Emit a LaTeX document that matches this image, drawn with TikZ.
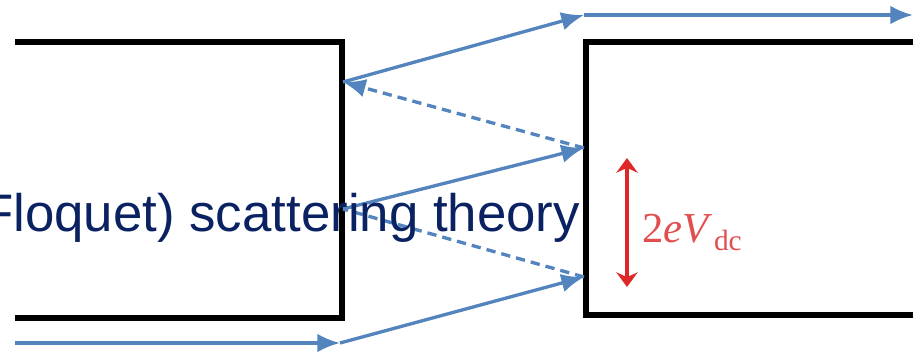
\RequirePackage{fix-cm}
\documentclass[tikz,border=0pt]{standalone}
\usepackage{fontspec}
\usepackage{xcolor}
\usepackage{tikz}
\usetikzlibrary{arrows.meta}
\newfontfamily\arialx{Liberation Sans}
\newfontfamily\timesx{Liberation Serif}
\definecolor{wireblue}{RGB}{84, 132, 190}
\definecolor{biasred}{RGB}{222, 40, 40}
\definecolor{lblred}{RGB}{226, 78, 78}
\definecolor{navy}{RGB}{10, 34, 98}
\tikzset{
    lead/.style  ={draw=black, line width=4pt, line join=miter},
    ar/.style    ={-{Latex[length=17pt, width=14pt]}, line width=2.5pt, draw=wireblue},
    ard/.style   ={ar, dash pattern=on 7pt off 4.5pt},
    bias/.style  ={{Stealth[length=11pt, width=16pt]}-{Stealth[length=11pt, width=16pt]},
                   line width=2.6pt, draw=biasred},
    title/.style ={font=\arialx\fontsize{39.6}{46}\selectfont, text=navy, inner sep=0pt},
    biaslbl/.style={font=\timesx\fontsize{32}{36}\selectfont, text=lblred, inner sep=0pt}
}
\newcommand{\sublow}[1]{\raisebox{-6pt}{\fontsize{22}{24}\selectfont #1}}

\begin{document}
\begin{tikzpicture}[x=0.75pt, y=-0.75pt]
  \useasboundingbox (0,0) rectangle (923,357);
  \clip (0,0) rectangle (923,357);

  % ---- the two leads
  \coordinate (lt)  at ( 15, 42);
  \coordinate (lc1) at (342, 42);
  \coordinate (lc2) at (342,318);
  \coordinate (lb)  at ( 15,318);
  \coordinate (rt)  at (913, 42);
  \coordinate (rc1) at (586, 42);
  \coordinate (rc2) at (586,315);
  \coordinate (rb)  at (913,315);
  \draw[lead] (lt) -- (lc1) -- (lc2) -- (lb);
  \draw[lead] (rt) -- (rc1) -- (rc2) -- (rb);

  % ---- bouncing path
  \coordinate (in)  at ( 15,343);
  \coordinate (p0)  at (340,343);
  \coordinate (p1)  at (584,277);
  \coordinate (p2)  at (343,209);
  \coordinate (p3)  at (584,148);
  \coordinate (p4)  at (343, 82);
  \coordinate (p5)  at (584, 15);
  \coordinate (out) at (913, 15);
  \draw[ar]  (in) -- (p0);
  \draw[ar]  (p0) -- (p1);
  \draw[ard, -] (p1) -- (p2);
  \draw[ar]  (p2) -- (p3);
  \draw[ard] (p3) -- (p4);
  \draw[ar]  (p4) -- (p5);
  \draw[ar]  (p5) -- (out);

  % ---- bias window
  \coordinate (vt) at (627,158);
  \coordinate (vb) at (627,287);
  \draw[bias] (vt) -- (vb);
  \node[biaslbl, anchor=base west] (vdc) at (642,242)
       {2\textit{eV}\kern1pt\sublow{dc}};

  % ---- caption across the picture
  \node[title, anchor=base west] (thy) at (-19,231) {Floquet) scattering theory};
\end{tikzpicture}
\end{document}
